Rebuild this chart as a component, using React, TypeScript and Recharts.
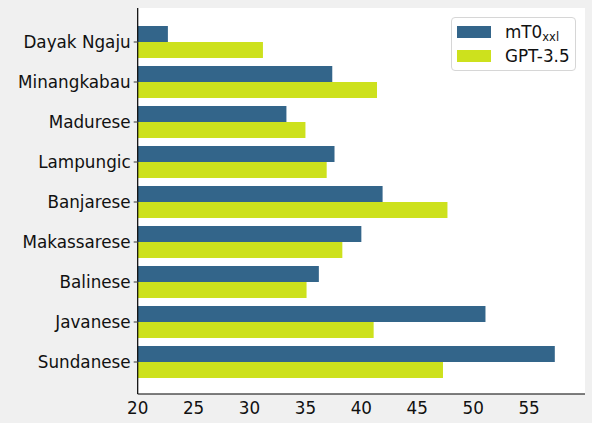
import { BarChart, Bar, XAxis, YAxis, CartesianGrid } from "recharts";

const languages = [
  "Dayak Ngaju",
  "Minangkabau",
  "Madurese",
  "Lampungic",
  "Banjarese",
  "Makassarese",
  "Balinese",
  "Javanese",
  "Sundanese",
];
const mt0Scores = [22.7, 37.4, 33.3, 37.6, 41.9, 40.0, 36.2, 51.1, 57.3];
const gptScores = [31.2, 41.4, 35.0, 36.9, 47.7, 38.3, 35.1, 41.1, 47.3];
const xTicks = [20, 25, 30, 35, 40, 45, 50, 55];

const MT0_COLOR = "#33658a";
const GPT_COLOR = "#cde11d";
const FONT = "'DejaVu Sans', sans-serif";

const data = languages.map((name, i) => ({ name, mt0: mt0Scores[i], gpt: gptScores[i] }));

// legend drawn as an overlay so it doesn't steal width from the plot
function LegendBox() {
  const row = (color: string, label: React.ReactNode) => (
    <div style={{ display: "flex", alignItems: "center", height: 24 }}>
      <div style={{ width: 34, height: 12, background: color, marginLeft: 5, marginRight: 14 }} />
      <span style={{ fontSize: 16.8, color: "#111", lineHeight: "20px" }}>{label}</span>
    </div>
  );
  return (
    <div
      style={{
        position: "absolute",
        left: 451,
        top: 17,
        width: 125,
        height: 54,
        border: "1px solid #d6d6d6",
        borderRadius: 4,
        background: "rgba(255,255,255,0.85)",
        fontFamily: FONT,
        paddingTop: 2,
        boxSizing: "border-box",
      }}
    >
      {row(MT0_COLOR, <>mT0<sub style={{ fontSize: 11.5, verticalAlign: "-3px", lineHeight: 0 }}>xxl</sub></>)}
      {row(GPT_COLOR, "GPT-3.5")}
    </div>
  );
}

export default function App() {
  return (
    <div style={{ position: "absolute", left: 0, top: 0, width: 592, height: 423, background: "#f0f0f0" }}>
      <BarChart
        width={592}
        height={423}
        data={data}
        layout="vertical"
        margin={{ top: 8, right: 7, bottom: 0, left: 0 }}
        barSize={16}
        barGap={0}
      >
        <CartesianGrid horizontal={false} vertical={false} fill="#ffffff" stroke="none" />
        <XAxis
          type="number"
          domain={[20, 60]}
          ticks={xTicks}
          allowDataOverflow
          height={29}
          tickLine={false}
          tickSize={0}
          tickMargin={8}
          axisLine={{ stroke: "#000", strokeWidth: 1.2 }}
          tick={{ fontSize: 16.8, fill: "#111", fontFamily: FONT }}
        />
        <YAxis
          type="category"
          dataKey="name"
          width={137.7}
          padding={{ top: 14, bottom: 12 }}
          tickSize={4}
          tickMargin={3}
          tickLine={{ stroke: "#555", strokeWidth: 1.2 }}
          axisLine={{ stroke: "#000", strokeWidth: 1.2 }}
          tick={{ fontSize: 16.8, fill: "#111", fontFamily: FONT }}
          interval={0}
        />
        <Bar dataKey="mt0" name="mT0xxl" fill={MT0_COLOR} isAnimationActive={false} />
        <Bar dataKey="gpt" name="GPT-3.5" fill={GPT_COLOR} isAnimationActive={false} />
      </BarChart>
      <LegendBox />
    </div>
  );
}
